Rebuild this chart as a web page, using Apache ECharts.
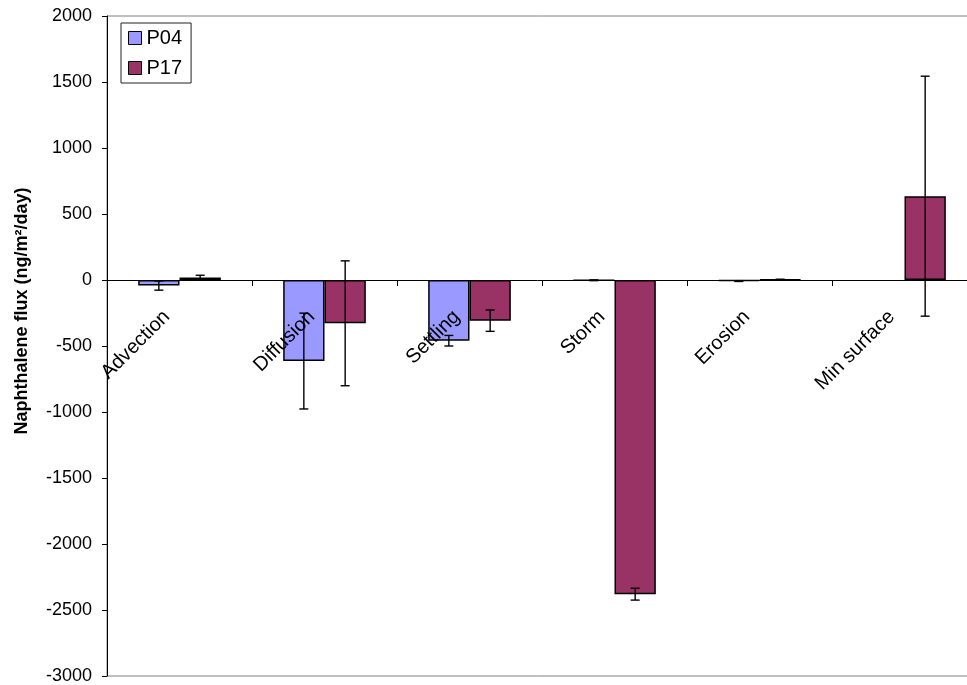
<!DOCTYPE html>
<html>
<head>
<meta charset="utf-8">
<script src="https://cdn.jsdelivr.net/npm/echarts@6/dist/echarts.min.js"></script>
<style>html,body{margin:0;padding:0;background:#fff}#c{width:967px;height:685px}</style>
</head>
<body>
<div id="c"></div>
<script>
var categories = ['Advection', 'Diffusion', 'Settling', 'Storm', 'Erosion', 'Min surface'];
var p04 = [-42, -614, -460, -2, -8, null];
var p04Err = [35, 363, 40, 3, 3, null];
var p17 = [18, -328, -308, -2380, 4, 635];
var p17Err = [18, 473, 81, 45, 2, 909];
var yTicks = { min: -3000, max: 2000, interval: 500 };

var FONT = '"Liberation Sans", Arial, sans-serif';
var CAT_GAP = 0.43;
var GRID_TOP = 16, GRID_BOTTOM_Y = 676;
var ZERO_Y = GRID_TOP + (GRID_BOTTOM_Y - GRID_TOP) * yTicks.max / (yTicks.max - yTicks.min);

function errData(vals, errs) {
  var out = [];
  for (var i = 0; i < vals.length; i++) {
    if (vals[i] !== null && errs[i] !== null) out.push([i, vals[i], errs[i]]);
  }
  return out;
}

function makeErr(side) {
  return function (params, api) {
    var idx = api.value(0), v = api.value(1), e = api.value(2);
    var band = api.size([1, 0])[0];
    var bw = band * (1 - CAT_GAP) / 2;
    var c = api.coord([idx, v]);
    var x = c[0] + side * bw / 2;
    var yTop = api.coord([idx, v + e])[1];
    var yBot = api.coord([idx, v - e])[1];
    var cap = 4.5;
    var st = { stroke: '#000', lineWidth: 1.4 };
    return {
      type: 'group',
      children: [
        { type: 'line', shape: { x1: x, y1: yTop, x2: x, y2: yBot }, style: st },
        { type: 'line', shape: { x1: x - cap, y1: yTop, x2: x + cap, y2: yTop }, style: st },
        { type: 'line', shape: { x1: x - cap, y1: yBot, x2: x + cap, y2: yBot }, style: st }
      ]
    };
  };
}

var chart = echarts.init(document.getElementById('c'), null, { renderer: 'canvas' });
chart.setOption({
  animation: false,
  backgroundColor: '#fff',
  textStyle: { fontFamily: FONT },
  grid: { left: 107, top: GRID_TOP, bottom: 685 - GRID_BOTTOM_Y, right: -10, show: true, borderColor: '#808080', borderWidth: 1,
          backgroundColor: 'transparent', containLabel: false, outerBoundsMode: 'none' },
  legend: {
    data: ['P04', 'P17'],
    orient: 'vertical',
    left: 121, top: 23,
    backgroundColor: '#fff',
    borderColor: '#222', borderWidth: 1,
    padding: [5, 9, 5, 7],
    itemWidth: 13, itemHeight: 13, itemGap: 10,
    icon: 'rect',
    itemStyle: { borderColor: '#000', borderWidth: 1 },
    textStyle: { fontSize: 20, color: '#000', fontFamily: FONT }
  },
  xAxis: {
    type: 'category',
    data: categories,
    position: 'bottom',
    offset: ZERO_Y - GRID_BOTTOM_Y,
    z: 20,
    axisLine: { onZero: false, lineStyle: { color: '#000', width: 1 } },
    axisTick: { show: true, length: 6, lineStyle: { color: '#000' } },
    axisLabel: { rotate: 45, fontSize: 20, color: '#000', margin: 21, padding: [0, 18, 0, 0], fontFamily: FONT, interval: 0 },
    splitLine: { show: false }
  },
  yAxis: {
    type: 'value',
    min: yTicks.min, max: yTicks.max, interval: yTicks.interval,
    axisLine: { show: true, lineStyle: { color: '#000', width: 1 } },
    axisTick: { show: true, length: 5, lineStyle: { color: '#000' } },
    axisLabel: { fontSize: 18, color: '#000', margin: 15, fontFamily: FONT, formatter: function (v) { return String(v); } },
    splitLine: { show: false }
  },
  graphic: [{
    type: 'text',
    x: 22, y: 311,
    rotation: Math.PI / 2,
    style: {
      text: 'Naphthalene flux (ng/m²/day)',
      fontSize: 18, fontWeight: 'bold', fontFamily: FONT,
      fill: '#000', align: 'center', verticalAlign: 'middle'
    }
  }],
  series: [
    { name: 'P04', type: 'bar', data: p04, barGap: '0%', barCategoryGap: (CAT_GAP * 100) + '%',
      itemStyle: { color: '#9999FF', borderColor: '#000', borderWidth: 1.5 } },
    { name: 'P17', type: 'bar', data: p17, barGap: '0%', barCategoryGap: (CAT_GAP * 100) + '%',
      itemStyle: { color: '#993366', borderColor: '#000', borderWidth: 1.5 } },
    { name: 'errP04', type: 'custom', data: errData(p04, p04Err), renderItem: makeErr(-1), z: 10,
      encode: { x: 0, y: 1 } },
    { name: 'errP17', type: 'custom', data: errData(p17, p17Err), renderItem: makeErr(1), z: 10,
      encode: { x: 0, y: 1 } }
  ]
});
</script>
</body>
</html>
